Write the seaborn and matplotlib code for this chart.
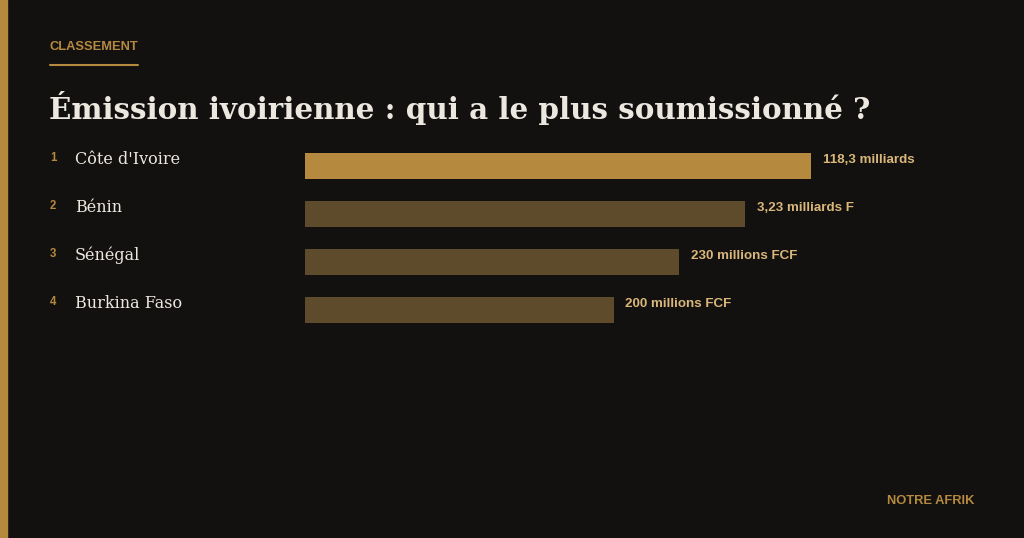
import matplotlib
matplotlib.use("Agg")
import matplotlib.pyplot as plt
import seaborn as sns
import pandas as pd

# Data
ranks = ["1", "2", "3", "4"]
countries = ["Côte d'Ivoire", "Bénin", "Sénégal", "Burkina Faso"]
# displayed bar length (ranked scale, % of longest bar)
bar_scores = [100, 87, 74, 61]
value_labels = ["118,3 milliards", "3,23 milliards F", "230 millions FCF", "200 millions FCF"]

BG = "#131110"
GOLD = "#b5893e"
GOLD_DIM = "#5e4b2c"
LABEL_GOLD = "#d9b77a"
TEXT = "#ece8e0"

sns.set_theme(style="white")
plt.rcParams["font.family"] = ["DejaVu Sans"]

W, H = 1024, 538
fig = plt.figure(figsize=(W / 100, H / 100), dpi=100, facecolor=BG)


def px(x, y):
    return x / W, 1 - y / H


# left accent stripe
fig.patches.append(plt.Rectangle((0, 0), 7 / W, 1, transform=fig.transFigure,
                                 color=GOLD, zorder=0))

# kicker + underline
fig.text(*px(50, 47), "CLASSEMENT", color=GOLD, fontsize=9.3, fontweight="bold",
         family="Liberation Sans", va="center", ha="left")
fig.add_artist(plt.Line2D([50 / W, 138 / W], [1 - 65 / H, 1 - 65 / H],
                          color=GOLD, lw=1.5, transform=fig.transFigure))

# title
fig.text(*px(49, 108), "Émission ivoirienne : qui a le plus soumissionné ?",
         color=TEXT, fontsize=21.2, fontweight="bold", family="DejaVu Serif",
         va="center", ha="left")

# bar chart axes: bars start at x=305, longest ends at x=811
top, row = 142, 48
ax = fig.add_axes([305 / W, 1 - (top + row * 4) / H, 506 / W, row * 4 / H])
ax.set_facecolor(BG)
df = pd.DataFrame({"country": countries, "score": bar_scores})
sns.barplot(data=df, x="score", y="country", hue="country", orient="h",
            palette=[GOLD] + [GOLD_DIM] * 3, width=0.56, legend=False,
            saturation=1, linewidth=0, ax=ax)
ax.set_xlim(0, 100)
ax.set_ylim(3.5, -0.5)
ax.axis("off")

for i, (score, lab) in enumerate(zip(bar_scores, value_labels)):
    ax.annotate(lab, (score, i - 0.13), xytext=(8.5, 0), textcoords="offset points",
                color=LABEL_GOLD, fontsize=9.6, fontweight="bold",
                family="Liberation Sans", va="center", ha="left",
                annotation_clip=False)

# rank numbers and country names
for i, (r, c) in enumerate(zip(ranks, countries)):
    y = 159 + i * row
    fig.text(*px(50, y - 1), r, color=GOLD, fontsize=8.3, fontweight="bold",
             family="Liberation Sans", va="center", ha="left")
    fig.text(*px(75, y), c, color=TEXT, fontsize=11.5, family="DejaVu Serif",
             va="center", ha="left")

# footer
fig.text(*px(974, 501), "NOTRE AFRIK", color=GOLD, fontsize=9.3, fontweight="bold",
         family="Liberation Sans", va="center", ha="right")

fig.savefig("out.png", dpi=100, facecolor=BG)
